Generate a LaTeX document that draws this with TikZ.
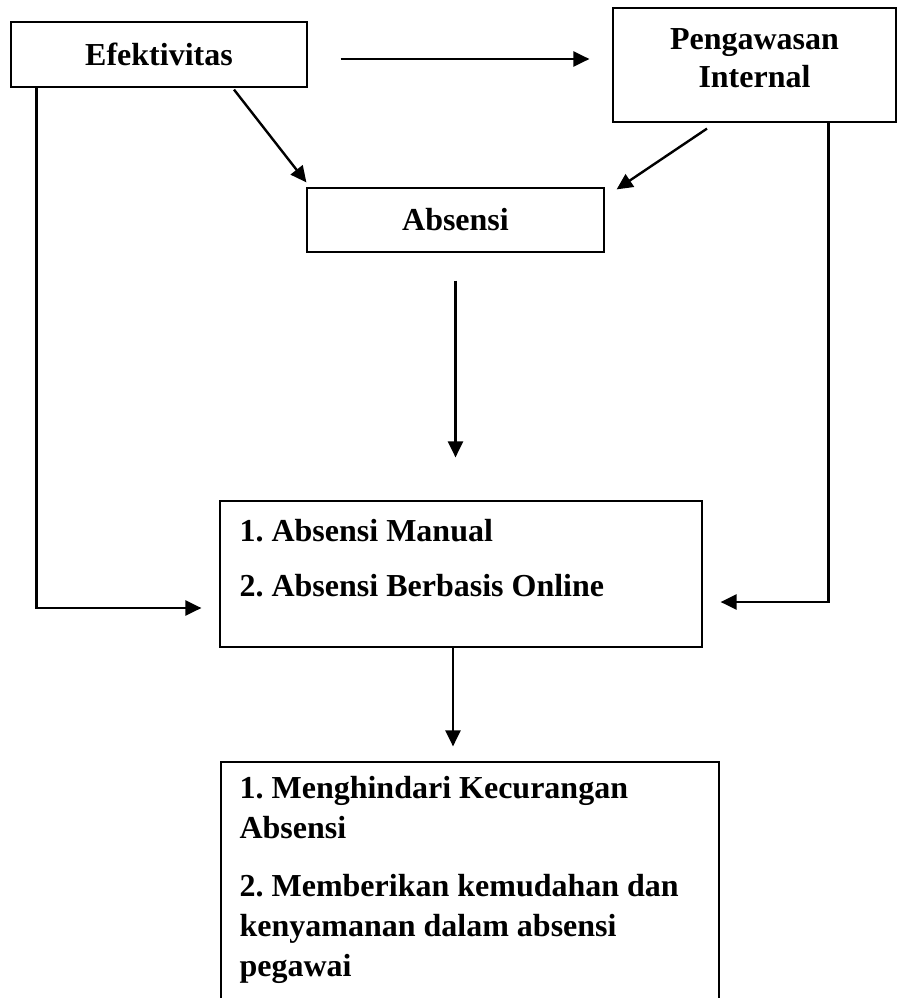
\documentclass[tikz,border=0pt]{standalone}
\usepackage{fontspec}
\setmainfont{Liberation Serif}
\frenchspacing
\usetikzlibrary{arrows.meta,positioning}

\tikzset{
  kotak/.style={draw, line width=1.2pt, inner sep=0pt},
  teks/.style={font=\fontsize{32}{40}\selectfont\bfseries, inner sep=0pt},
  panah/.style={line width=2.4pt, -{Triangle[length=16pt,width=15pt]}}
}

\begin{document}
\begin{tikzpicture}[x=1pt,y=-1pt]
  \useasboundingbox (0,0) rectangle (898,998);
  \node[kotak, teks, minimum width=296pt, minimum height=65pt] (efektivitas) at (159,54.5) {Efektivitas};
  \node[kotak, minimum width=283pt, minimum height=114pt] (pengawasan) at (754.5,65) {};
  \node[teks, align=center, font=\fontsize{32}{38}\selectfont\bfseries, yshift=7pt] (pengawasanteks) at (pengawasan) {Pengawasan\\Internal};
  \node[kotak, teks, minimum width=297pt, minimum height=64pt] (absensi) at (455.5,220) {Absensi};
  \node[kotak, minimum width=482pt, minimum height=146pt] (mid) at (461,574) {};
  \node[teks, align=left, anchor=north west, font=\fontsize{32}{55}\selectfont\bfseries] (midteks) at ([shift={(20,19)}]mid.north west) {1. Absensi Manual\\2. Absensi Berbasis Online};
  \node[kotak, minimum width=498pt, minimum height=248pt] (hasil) at (470,886) {};
  \node[teks, align=left, anchor=north west] (hasilteks) at ([shift={(19,15)}]hasil.north west) {1. Menghindari Kecurangan\\Absensi\\[18pt]2. Memberikan kemudahan dan\\kenyamanan dalam absensi\\pegawai};

  \draw[panah, shorten <=33pt, shorten >=23pt] ([yshift=-4.5pt]efektivitas.east) -- ([yshift=-4.5pt]efektivitas.east -| pengawasan.west);
  \draw[panah] ([shift={(75,2)}]efektivitas.south) -- ([yshift=5pt]absensi.north west);
  \draw[panah] ([shift={(-47.5,6)}]pengawasan.south) -- ([shift={(12,2)}]absensi.north east);
  \draw[panah, shorten <=28pt, shorten >=43pt] (absensi.south) -- (absensi.south |- mid.north);
  \draw[panah] ([xshift=26pt]efektivitas.south west) |- ([shift={(-18,34)}]mid.west);
  \draw[panah] ([xshift=-68pt]pengawasan.south east) |- ([shift={(18,28)}]mid.east);
  \draw[panah, shorten >=15pt] ([xshift=-8pt]mid.south) -- ([xshift=-8pt]mid.south |- hasil.north);
\end{tikzpicture}
\end{document}
